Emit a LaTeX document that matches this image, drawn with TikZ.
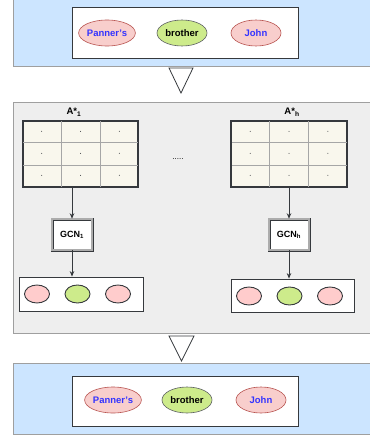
\documentclass[tikz,border=0pt]{standalone}
\usepackage{fontspec}
\setmainfont{Liberation Sans}
\usetikzlibrary{positioning,arrows.meta,shapes.geometric,calc}

\definecolor{panelblue}{HTML}{CCE5FF}
\definecolor{panelgray}{HTML}{EEEEEE}
\definecolor{tokpink}{HTML}{F8CECC}
\definecolor{tokred}{HTML}{B85450}
\definecolor{tokgreen}{HTML}{CDEB8B}
\definecolor{tokblue}{HTML}{3333FF}
\definecolor{dotpink}{HTML}{FFCCCC}
\definecolor{cellfill}{HTML}{F9F7ED}
\definecolor{darkline}{HTML}{36393D}

\tikzset{
  panel/.style={draw=gray!75,line width=0.9pt,inner sep=0pt},
  seqbox/.style={draw=darkline,fill=white,line width=0.8pt,inner sep=0pt},
  tok/.style={ellipse,draw=tokred,fill=tokpink,text=tokblue,line width=0.6pt,
    minimum width=50pt,minimum height=26pt,inner sep=0pt},
  verb/.style={tok,draw=darkline!80,fill=tokgreen,text=black},
  vec/.style={ellipse,draw=darkline,fill=dotpink,line width=0.9pt,
    minimum width=25pt,minimum height=18pt,inner sep=0pt},
  vecg/.style={vec,fill=tokgreen},
  adj/.style={draw=darkline,fill=cellfill,line width=1.4pt,
    minimum width=115pt,minimum height=66pt,inner sep=0pt},
  gcn/.style={draw=darkline,double=gray!65,double distance=2pt,line width=0.5pt,
    fill=white,minimum width=40pt,minimum height=31pt,inner sep=0pt,
    font=\bfseries\fontsize{9}{10}\selectfont},
  funnel/.style={draw=darkline,fill=white,line width=0.8pt,line join=miter}
}

\begin{document}
\begin{tikzpicture}[x=1pt,y=-1pt,>={Stealth[length=5.5pt,width=4.5pt]},on grid,
  font=\bfseries\fontsize{9.5}{11}\selectfont]
\useasboundingbox (0,0) rectangle (369,441);

% input sentence
\node[panel,fill=panelblue,minimum width=367pt,minimum height=76pt] (inpanel) at (196.5,28) {};
\node[seqbox,minimum width=226pt,minimum height=51pt] (inseq) at (185,32.5) {};
\node[tok] (p_in) at (107,33) {Panner's};
\node[verb] (b_in) [right=75pt of p_in] {brother};
\node[tok] (j_in) [right=74pt of b_in] {John};

\draw[funnel] (169,68) -- (193,68) -- (181,93) -- cycle;

% heads
\node[panel,fill=panelgray,minimum width=367pt,minimum height=231pt] (heads) at (196.5,217.5) {};

\node[adj] (A_1) at (80.5,154) {};
\node[adj] (A_h) at (289,154) {};
\foreach \m in {A_1,A_h}{
  \foreach \f in {1,2}{
    \draw[gray!70,line width=0.8pt] ($(\m.north west)!\f/3!(\m.north east)$) -- ($(\m.south west)!\f/3!(\m.south east)$);
    \draw[gray!70,line width=0.8pt] ($(\m.north west)!\f/3!(\m.south west)$) -- ($(\m.north east)!\f/3!(\m.south east)$);
  }
  \foreach \i in {1,3,5}
    \foreach \j in {1,3,5}
      \fill[darkline] ($(\m.north west)!\i/6!(\m.north east) + (0,{66*\j/6})$) circle (0.5pt);
  \draw[darkline,line width=1.4pt] (\m.north west) rectangle (\m.south east);
}
\node (lab_1) at (74,112) {A*\textsubscript{1}};
\node (lab_h) at (292,112) {A*\textsubscript{h}};
\node[font=\fontsize{8}{9}\selectfont] (dots) at (178,159.5) {.....};

\node[gcn] (gcn_1) at (72,234.5) {GCN\textsubscript{1}};
\node[gcn] (gcn_h) at (289,234.5) {GCN\textsubscript{h}};

\node[seqbox,minimum width=124pt,minimum height=34pt] (out_1) at (81,294) {};
\node[vec] (o1a) at (37,294) {};
\node[vecg] (o1b) [right=40.5pt of o1a] {};
\node[vec] (o1c) [right=40.5pt of o1b] {};

\node[seqbox,minimum width=123pt,minimum height=33pt] (out_h) at (292.5,295.5) {};
\node[vec] (oha) at (249,296) {};
\node[vecg] (ohb) [right=40.5pt of oha] {};
\node[vec] (ohc) [right=40.5pt of ohb] {};

\path[->,darkline,line width=0.8pt]
  (A_1.south -| gcn_1) edge (gcn_1)
  (A_h.south -| gcn_h) edge (gcn_h)
  (gcn_1) edge (out_1.north -| gcn_1)
  (gcn_h) edge (out_h.north -| gcn_h);

\draw[funnel] (169,336) -- (194,336) -- (181.5,361) -- cycle;

% output sentence
\node[panel,fill=panelblue,minimum width=367pt,minimum height=71pt] (outpanel) at (196.5,398.5) {};
\node[seqbox,minimum width=226pt,minimum height=50pt] (outseq) at (185,401) {};
\node[tok] (p_out) at (113,400) {Panner's};
\node[verb] (b_out) [right=74pt of p_out] {brother};
\node[tok] (j_out) [right=74pt of b_out] {John};
\end{tikzpicture}
\end{document}
